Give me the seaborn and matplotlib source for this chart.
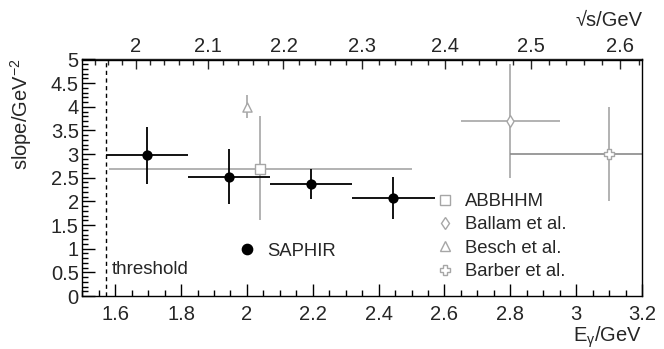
import numpy as np
import pandas as pd
import matplotlib
matplotlib.use("Agg")
import matplotlib.pyplot as plt
import seaborn as sns
from matplotlib.lines import Line2D
from matplotlib.ticker import MultipleLocator, FixedLocator, FuncFormatter

# ---------------- data ----------------
saphir_E = [1.697, 1.945, 2.195, 2.445]
saphir_E_lo = [1.573, 1.820, 2.070, 2.320]
saphir_E_hi = [1.820, 2.070, 2.320, 2.570]
saphir_slope = [2.98, 2.52, 2.37, 2.08]
saphir_err_up = [0.60, 0.58, 0.32, 0.43]
saphir_err_dn = [0.61, 0.57, 0.32, 0.46]

other_names = ["ABBHHM", "Ballam et al.", "Besch et al.", "Barber et al."]
other_E = [2.04, 2.80, 2.00, 3.10]
other_E_lo = [1.58, 2.65, 2.00, 2.80]
other_E_hi = [2.50, 2.95, 2.00, 3.40]
other_slope = [2.69, 3.71, 4.00, 3.01]
other_err_up = [1.11, 1.19, 0.25, 0.99]
other_err_dn = [1.09, 1.21, 0.24, 1.01]
other_markers = ["s", "d", "^", "P"]
other_msize = [6.6, 6.0, 6.6, 7.0]

threshold_E = 1.573
sqrt_s_ticks = [2.0, 2.1, 2.2, 2.3, 2.4, 2.5, 2.6]
mp = 0.938

# ---------------- style ----------------
sns.set_style("ticks")
plt.rcParams["font.family"] = ["Liberation Sans", "DejaVu Sans"]
plt.rcParams["mathtext.fontset"] = "custom"
plt.rcParams["mathtext.rm"] = "Liberation Sans"
plt.rcParams["mathtext.it"] = "Liberation Sans"
FS = 13.3
TFS = 14.5

fig = plt.figure(figsize=(6.64, 3.49), dpi=100)
ax = fig.add_axes([82.3 / 664, (349 - 296) / 349, (642 - 82.3) / 664, (296 - 59.5) / 349])

gray = "#a6a6a6"
gray_dark = "#8a8a8a"

# error bars of other experiments
for i in range(len(other_names)):
    xl = other_E[i] - other_E_lo[i]
    xh = other_E_hi[i] - other_E[i]
    ax.errorbar([other_E[i]], [other_slope[i]],
                yerr=[[other_err_dn[i]], [other_err_up[i]]],
                fmt="none", ecolor=gray, elinewidth=1.2, capsize=0, zorder=2)
    if xl + xh > 0:
        ax.errorbar([other_E[i]], [other_slope[i]],
                    xerr=[[xl], [xh]],
                    fmt="none", ecolor=gray_dark if i == 3 else gray,
                    elinewidth=1.2, capsize=0, zorder=2)

# SAPHIR error bars
ax.errorbar(saphir_E, saphir_slope,
            xerr=[np.subtract(saphir_E, saphir_E_lo), np.subtract(saphir_E_hi, saphir_E)],
            yerr=[saphir_err_dn, saphir_err_up],
            fmt="none", ecolor="black", elinewidth=1.3, capsize=0, zorder=3)

# markers via seaborn
for i in range(len(other_names)):
    sns.scatterplot(x=[other_E[i]], y=[other_slope[i]], marker=other_markers[i],
                    s=other_msize[i] ** 2, facecolor="white", edgecolor=gray,
                    linewidth=1.0, ax=ax, zorder=4, legend=False)
sns.scatterplot(x=saphir_E, y=saphir_slope, marker="o", s=7.4 ** 2,
                color="black", edgecolor="black", linewidth=0, ax=ax, zorder=5, legend=False)

# threshold line
ax.axvline(threshold_E, color="black", lw=1.0, ls=(0, (3, 2.5)), zorder=1)
ax.text(1.589, 0.46, "threshold", fontsize=13.5, ha="left", va="baseline")

# axes
ax.set_xlim(1.5, 3.2)
ax.set_ylim(0, 5)
fmt = FuncFormatter(lambda v, p: "%g" % round(v, 3))
ax.xaxis.set_major_locator(MultipleLocator(0.2))
ax.xaxis.set_minor_locator(MultipleLocator(0.05))
ax.yaxis.set_major_locator(MultipleLocator(0.5))
ax.yaxis.set_minor_locator(MultipleLocator(0.1))
ax.xaxis.set_major_formatter(fmt)
ax.yaxis.set_major_formatter(fmt)
ax.tick_params(axis="both", which="both", direction="in", labelsize=TFS, color="black")
ax.tick_params(axis="both", which="major", length=9, width=1.0)
ax.tick_params(axis="both", which="minor", length=4.5, width=1.0)
ax.tick_params(axis="x", which="major", pad=6.5)
ax.tick_params(axis="y", which="major", pad=2.5)
ax.tick_params(top=False, right=False, which="both")
for s in ax.spines.values():
    s.set_color("black")
    s.set_linewidth(1.0)
    s.set_visible(True)


def e2w(E):
    E = np.asarray(E, dtype=float)
    return np.sqrt(np.clip(mp ** 2 + 2 * mp * E, 1e-9, None))


def w2e(W):
    W = np.asarray(W, dtype=float)
    return (W ** 2 - mp ** 2) / (2 * mp)


sec = ax.secondary_xaxis("top", functions=(e2w, w2e))
sec.xaxis.set_major_locator(FixedLocator(sqrt_s_ticks))
sec.xaxis.set_minor_locator(MultipleLocator(0.02))
sec.xaxis.set_major_formatter(fmt)
sec.tick_params(axis="x", which="both", direction="in", labelsize=TFS)
sec.tick_params(axis="x", which="major", length=7, width=1.0, pad=2.5)
sec.tick_params(axis="x", which="minor", length=4, width=1.0)
sec.spines["top"].set_linewidth(1.0)

# axis titles
fig.text(642 / 664, 1 - 20 / 349, "\u221as/GeV", fontsize=TFS, ha="right", va="center")
fig.text(642 / 664, 1 - 337 / 349, "E$_{\u03b3}$/GeV", fontsize=TFS, ha="right", va="center")
fig.text(21.5 / 664, 1 - 58 / 349, r"slope/GeV$^{-2}$", fontsize=TFS, rotation=90,
         ha="center", va="top")

# legends
h1 = [Line2D([], [], marker="o", ls="", color="black", markersize=7.4)]
leg1 = ax.legend(h1, ["SAPHIR"], loc="center left", frameon=False, fontsize=FS,
                 bbox_to_anchor=((237.7 - 82.3) / 559.7, (296 - 251.3) / 236.5),
                 handlelength=1.0, handletextpad=0.6, borderpad=0, borderaxespad=0)
ax.add_artist(leg1)
h2 = [Line2D([], [], marker=other_markers[i], ls="", markerfacecolor="white",
             markeredgecolor=gray, markeredgewidth=1.0, markersize=other_msize[i])
      for i in range(len(other_names))]
leg2 = ax.legend(h2, other_names, loc="upper left", frameon=False, fontsize=FS,
                 bbox_to_anchor=((436 - 82.3) / 559.7, (296 - 193) / 236.5),
                 handlelength=1.0, handletextpad=0.55, borderpad=0, borderaxespad=0,
                 labelspacing=0.35)

fig.savefig("out.png", dpi=100)
